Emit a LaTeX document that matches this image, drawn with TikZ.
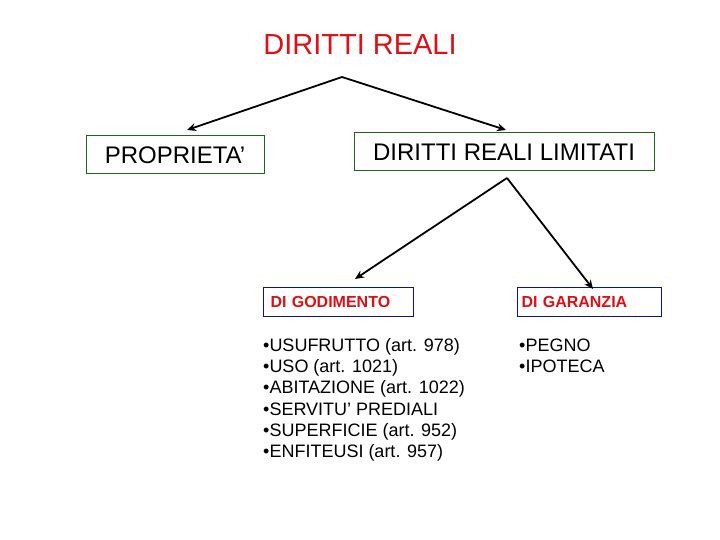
\documentclass[tikz,border=0pt]{standalone}
\usepackage{fontspec}
\setmainfont{Liberation Sans}
\usetikzlibrary{arrows.meta}
\definecolor{titlered}{RGB}{222,16,22}
\definecolor{boxgreen}{RGB}{30,100,30}
\definecolor{boxblue}{RGB}{20,20,120}
\tikzset{
  greenbox/.style={draw=boxgreen, line width=1pt, inner sep=0pt, font=\fontsize{24}{28}\selectfont},
  bluebox/.style={draw=boxblue, line width=1pt, inner sep=0pt, text=titlered, font=\fontsize{16}{18}\selectfont\bfseries},
  conn/.style={line width=1.8pt, -{Stealth[length=9pt,width=8pt]}},
  listtext/.style={anchor=north west, inner sep=0pt, align=left, font=\fontsize{18}{21.07}\selectfont}
}
\begin{document}
\begin{tikzpicture}[x=1pt,y=-1pt]
\useasboundingbox[fill=white] (0,0) rectangle (720,540);
\node[text=titlered, font=\fontsize{29}{32}\selectfont, inner sep=0pt] (title) at (360,45) {DIRITTI REALI};
\node[greenbox, minimum width=178pt, minimum height=38pt] (prop) at (175,155) {PROPRIETA’};
\node[greenbox, minimum width=300pt, minimum height=38pt] (lim) at (504,152) {DIRITTI REALI LIMITATI};
\node[bluebox, minimum width=150pt, minimum height=29pt, anchor=north west, text width=146pt, align=left, inner xsep=2pt] (god) at (263,287) {\hspace*{5pt}DI GODIMENTO};
\node[bluebox, minimum width=144pt, minimum height=29pt, anchor=north west, text width=140pt, align=left, inner xsep=2pt] (gar) at (517,287) {\hspace*{2pt}DI GARANZIA};
\node[listtext] (godlist) at (263,338.6) {•USUFRUTTO (art. 978)\\•USO (art. 1021)\\•ABITAZIONE (art. 1022)\\•SERVITU’ PREDIALI\\•SUPERFICIE (art. 952)\\•ENFITEUSI (art. 957)};
\node[listtext] (garlist) at (519,338.6) {•PEGNO\\•IPOTECA};
\coordinate (apex1) at (342,77);
\coordinate (t1) at (187,130);
\coordinate (t2) at (506,130);
\coordinate (apex2) at (507,178);
\coordinate (t3) at (355,279);
\coordinate (t4) at (593,289);
\draw[conn] (apex1) -- (t1);
\draw[conn] (apex1) -- (t2);
\draw[conn] (apex2) -- (t3);
\draw[conn] (apex2) -- (t4);
\end{tikzpicture}
\end{document}
